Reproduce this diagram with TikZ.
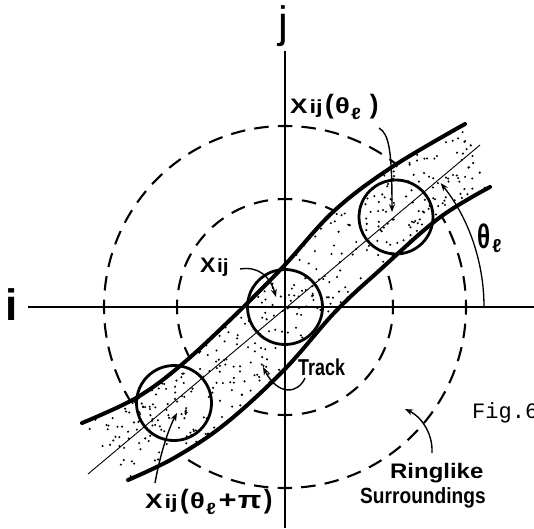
\documentclass[tikz,border=0pt]{standalone}
\usepackage{fontspec}
\usepackage{graphicx}
\usetikzlibrary{arrows.meta}
\newfontfamily\lf{Liberation Sans}
\newfontfamily\mf{Liberation Mono}
\newcommand\lpar{\scalebox{1.1}[1.4]{(}}
\newcommand\rpar{\scalebox{1.1}[1.4]{)}}
\newcommand\thl{\scalebox{1.15}{θ}\kern1pt\raisebox{-6pt}{\scalebox{0.85}{ℓ}}}
\begin{document}
\begin{tikzpicture}[x=1pt,y=-1pt,
  axisline/.style={line width=1.3pt},
  ring/.style={line width=2.1pt},
  bound/.style={line width=4pt,line cap=round},
  cline/.style={line width=0.9pt},
  smallc/.style={line width=2.8pt},
  lead/.style={line width=1.4pt,-{Stealth[length=8pt,width=6pt]}},
  lbl/.style={font=\lf\bfseries\fontsize{19}{22}\selectfont,inner sep=0pt,anchor=base west},
  big/.style={font=\lf\fontsize{44}{50}\selectfont,inner sep=0pt,anchor=base}]
\clip (0,0) rectangle (534,528);
\fill[white] (0,0) rectangle (534,528);
\coordinate (O) at (285,307);
% ringlike surroundings
\draw[ring,dash pattern=on 14.5pt off 9.19pt,dash phase=7.25pt] (O) circle (181pt);
\draw[ring,dash pattern=on 14.5pt off 9.735pt,dash phase=7.25pt] (O) circle (108pt);
% track band
\fill[white] plot[smooth,tension=0.6] coordinates {(82,423) (136,398) (180,366) (230,320) (282,268) (334,211) (392,167) (465,124)}
  -- plot[smooth,tension=0.6] coordinates {(490,187) (439,218) (381,269) (335,312) (284,370) (225,424) (174,458) (128,480)} -- cycle;
\begin{scope}
\clip plot[smooth,tension=0.6] coordinates {(82,423) (136,398) (180,366) (230,320) (282,268) (334,211) (392,167) (465,124)}
  -- plot[smooth,tension=0.6] coordinates {(490,187) (439,218) (381,269) (335,312) (284,370) (225,424) (174,458) (128,480)} -- cycle;
\pgfmathsetseed{4711}
\foreach \k in {1,...,1700}{
  \pgfmathsetmacro\rx{80+415*rnd}
  \pgfmathsetmacro\ry{118+367*rnd}
  \fill (\rx,\ry) circle (1.15pt);
}
\end{scope}
% axes
\coordinate (ia) at (28,307);
\coordinate (ib) at (534,307);
\coordinate (ja) at (285,51);
\coordinate (jb) at (285,528);
\draw[axisline] (ia) -- (ib);
\draw[axisline] (ja) -- (jb);
\node[big] (jlab) at (283,37) {j};
\node[big,font=\lf\bfseries\fontsize{44}{50}\selectfont] (ilab) at (11.5,320) {i};
% centre line of track
\coordinate (c1) at (88,474);
\coordinate (c2) at (480,145);
\draw[cline] (c1) -- (c2);
% boundaries
\draw[bound] plot[smooth,tension=0.6] coordinates {(82,423) (136,398) (180,366) (230,320) (282,268) (334,211) (392,167) (465,124)};
\draw[bound] plot[smooth,tension=0.6] coordinates {(128,480) (174,458) (225,424) (284,370) (335,312) (381,269) (439,218) (490,187)};
% small circles
\coordinate (cur) at (396,217);
\coordinate (cll) at (174,403);
\draw[smallc] (O) circle (37.5pt);
\draw[smallc] (cur) circle (37pt);
\draw[smallc] (cll) circle (37.5pt);
% theta arc
\coordinate (ta) at (484,307);
\draw[line width=1.3pt,-{Stealth[length=8pt,width=6pt]}] (ta) arc[start angle=0,end angle=38.5,radius=199pt];
% labels
\node[lbl] (lA) at (290,113) {\scalebox{1.25}[1]{\scalebox{1.1}{X}\kern1.5pt ij\kern2pt\lpar\kern1pt\thl\kern7pt\rpar}};
\node[lbl] (lB) at (200,272) {\scalebox{1.1}[1]{\scalebox{1.1}{X}\kern1.5pt ij}};
\node[lbl] (lC) at (145,508) {\scalebox{1.25}[1]{\scalebox{1.1}{X}\kern1.5pt ij\kern2pt\lpar\kern1pt\thl\kern2pt\scalebox{1.3}{+}\kern1pt\scalebox{1.3}{π}\kern2pt\rpar}};
\node[lbl,font=\lf\bfseries\fontsize{23}{26}\selectfont] (track) at (298,375) {\scalebox{0.78}[1]{Track}};
\node[lbl,font=\lf\bfseries\fontsize{21}{24}\selectfont] (ring1) at (390,478) {\scalebox{1.14}[1]{Ringlike}};
\node[lbl,font=\lf\bfseries\fontsize{22}{25}\selectfont] (ring2) at (360,503) {\scalebox{0.87}[1]{Surroundings}};
\node[lbl,font=\lf\bfseries\fontsize{22}{25}\selectfont] (thlab) at (477,248) {\scalebox{1.1}[1.55]{θ}\kern2pt\raisebox{-4pt}{\scalebox{0.85}{ℓ}}};
\node[inner sep=0pt,anchor=base west,font=\mf\fontsize{22}{25}\selectfont] (fig) at (472,418) {Fig.6};
% leader arrows
\coordinate (sA) at (379,128);
\coordinate (tA) at (392,212);
\draw[lead] (sA) .. controls (389,134) and (392,150) .. (tA);
\coordinate (sB) at (240,269);
\coordinate (tB) at (276,297);
\draw[lead] (sB) .. controls (258,266) and (270,276) .. (tB);
\coordinate (sC) at (155,483);
\coordinate (tC) at (177,413);
\draw[lead] (sC) .. controls (160,455) and (168,430) .. (tC);
\coordinate (sT) at (305,378);
\coordinate (tT) at (263,367);
\draw[lead] (sT) .. controls (298,394) and (278,396) .. (tT);
\coordinate (sR) at (432,453);
\coordinate (tR) at (405,409);
\draw[lead] (sR) .. controls (433,432) and (420,416) .. (tR);
\end{tikzpicture}
\end{document}
